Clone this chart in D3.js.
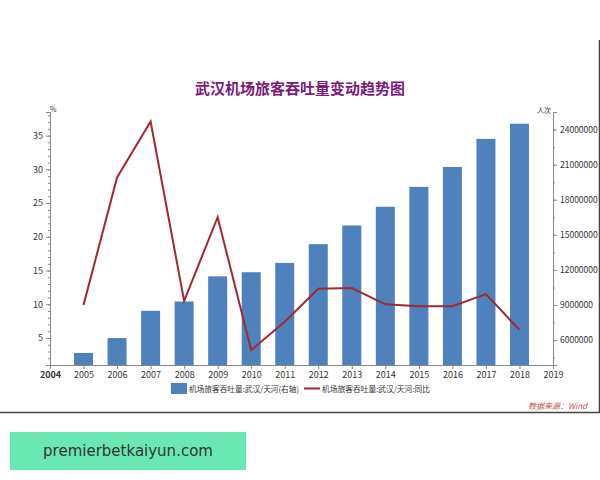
<!DOCTYPE html><html><head><meta charset="utf-8"><script src="https://cdn.jsdelivr.net/npm/d3@7"></script>
<style>body{margin:0;background:#fff}svg{display:block}</style></head><body><svg width="600" height="480"></svg>
<script>
const years=[2005,2006,2007,2008,2009,2010,2011,2012,2013,2014,2015,2016,2017,2018];
const passengers=[4900000,6170000,8500000,9300000,11450000,11800000,12600000,14200000,15800000,17400000,19100000,20800000,23200000,24500000];
const growth=[9.9,28.8,37.1,10.5,22.9,3.2,7.4,12.3,12.4,10.0,9.7,9.7,11.5,6.2];
const leftTicks=[5,10,15,20,25,30,35];
const rightTicks=[6000000,9000000,12000000,15000000,18000000,21000000,24000000];
const xTicks=d3.range(2004,2020);
const svg=d3.select("svg");
const F="'Noto Sans CJK SC','DejaVu Sans',sans-serif";
svg.append("path").attr("d","M0,412.5 H599.5 V40").attr("fill","none").attr("stroke","#444").attr("stroke-width",1.5);
const x=d3.scaleLinear().domain([2004,2019]).range([50,553]);
const yL=d3.scaleLinear().domain([1,38.5]).range([365,112]);
const yR=d3.scaleLinear().domain([3870000,25500000]).range([365,112]);
svg.append("text").attr("x",300).attr("y",94).attr("text-anchor","middle").attr("font-family",F).attr("font-weight","bold").attr("font-size",15).attr("fill","#7a1a7a").text("武汉机场旅客吞吐量变动趋势图");
const bw=19;
svg.selectAll("rect.b").data(years).join("rect").attr("x",d=>x(d)-bw/2).attr("width",bw)
 .attr("y",(d,i)=>yR(passengers[i])).attr("height",(d,i)=>365-yR(passengers[i])).attr("fill","#4f81bd");
svg.append("path").datum(years).attr("fill","none").attr("stroke","#a3282d").attr("stroke-width",2)
 .attr("d",d3.line().x(d=>x(d)).y((d,i)=>yL(growth[i])));
// minor ticks
svg.append("g").attr("transform","translate(50,0)").call(d3.axisLeft(yL).tickValues(d3.range(2,39)).tickSize(2).tickFormat(""));
svg.append("g").attr("transform","translate(553,0)").call(d3.axisRight(yR).tickValues(d3.range(4500000,25500000,1500000)).tickSize(2).tickFormat(""));
const ax=svg.append("g").attr("transform","translate(0,365)").call(d3.axisBottom(x).tickValues(xTicks).tickFormat(d3.format("d")).tickSize(4));
ax.selectAll("text").attr("font-family",F).attr("font-size",9).attr("fill","#333");
ax.select("text").attr("font-weight","bold");
const al=svg.append("g").attr("transform","translate(50,0)").call(d3.axisLeft(yL).tickValues(leftTicks).tickSize(4));
al.selectAll("text").attr("font-family",F).attr("font-size",9).attr("fill","#333");
const ar=svg.append("g").attr("transform","translate(553,0)").call(d3.axisRight(yR).tickValues(rightTicks).tickFormat(d3.format("d")).tickSize(4));
ar.selectAll("text").attr("font-family",F).attr("font-size",8.5).attr("fill","#333");
svg.selectAll(".domain,.tick line").attr("stroke","#888");
svg.append("text").attr("x",50).attr("y",112).attr("font-family",F).attr("font-size",7).attr("fill","#333").text("%");
svg.append("text").attr("x",551).attr("y",113).attr("text-anchor","end").attr("font-family",F).attr("font-size",7).attr("fill","#333").text("人次");
svg.append("rect").attr("x",171).attr("y",383).attr("width",16).attr("height",11).attr("fill","#4f81bd");
svg.append("text").attr("x",189).attr("y",392).attr("font-family",F).attr("font-size",8).attr("textLength",110).attr("lengthAdjust","spacingAndGlyphs").attr("fill","#333").text("机场旅客吞吐量:武汉/天河(右轴)");
svg.append("line").attr("x1",304).attr("x2",320).attr("y1",388.5).attr("y2",388.5).attr("stroke","#a3282d").attr("stroke-width",2);
svg.append("text").attr("x",322).attr("y",392).attr("font-family",F).attr("font-size",8).attr("textLength",108).attr("lengthAdjust","spacingAndGlyphs").attr("fill","#333").text("机场旅客吞吐量:武汉/天河:同比");
svg.append("text").attr("x",587).attr("y",409).attr("text-anchor","end").attr("font-family",F).attr("font-style","italic").attr("font-size",8).attr("fill","#c0504d").text("数据来源：Wind");
svg.append("rect").attr("x",10).attr("y",432).attr("width",236).attr("height",38).attr("fill","#6ae8b4");
svg.append("text").attr("x",128).attr("y",456).attr("text-anchor","middle").attr("font-family","'DejaVu Sans',sans-serif").attr("font-size",15).attr("fill","#333").text("premierbetkaiyun.com");
</script></body></html>
